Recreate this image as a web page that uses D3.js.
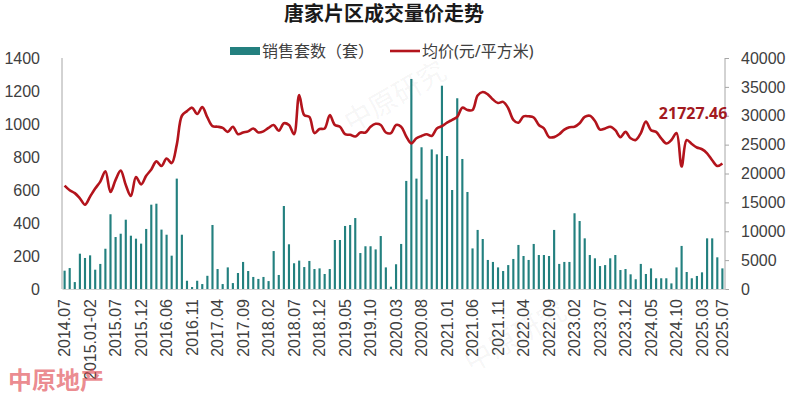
<!DOCTYPE html>
<html>
<head>
<meta charset="utf-8">
<script src="https://cdn.jsdelivr.net/npm/d3@7"></script>
<style>
  body { margin: 0; background: #fff; }
  svg { display: block; font-family: "Noto Sans", "Noto Sans CJK SC", sans-serif; }
</style>
</head>
<body>
<div id="chart"></div>
<script>
// monthly categories (Jan/Feb merged in some years)
const categories = [
  "2014.07","2014.08","2014.09","2014.10","2014.11-12",
  "2015.01-02","2015.03","2015.04","2015.05","2015.06","2015.07","2015.08","2015.09","2015.10","2015.11","2015.12",
  "2016.01-02","2016.03","2016.04","2016.05","2016.06","2016.07","2016.08","2016.09","2016.10","2016.11","2016.12",
  "2017.01","2017.02","2017.03","2017.04","2017.05","2017.06","2017.07","2017.08","2017.09","2017.10","2017.11","2017.12",
  "2018.01","2018.02","2018.03","2018.04","2018.05","2018.06","2018.07","2018.08","2018.09","2018.10","2018.11","2018.12",
  "2019.01","2019.02","2019.03","2019.04","2019.05","2019.06","2019.07","2019.08","2019.09","2019.10","2019.11","2019.12",
  "2020.01","2020.02","2020.03","2020.04","2020.05","2020.06","2020.07","2020.08","2020.09","2020.10","2020.11","2020.12",
  "2021.01","2021.02","2021.03","2021.04","2021.05","2021.06","2021.07","2021.08","2021.09","2021.10","2021.11","2021.12",
  "2022.01","2022.02","2022.03","2022.04","2022.05","2022.06","2022.07","2022.08","2022.09","2022.10","2022.11","2022.12",
  "2023.01","2023.02","2023.03","2023.04","2023.05","2023.06","2023.07","2023.08","2023.09","2023.10","2023.11","2023.12",
  "2024.01","2024.02","2024.03","2024.04","2024.05","2024.06","2024.07","2024.08","2024.09","2024.10","2024.11","2024.12",
  "2025.01","2025.02","2025.03","2025.04","2025.05","2025.06","2025.07"
];

// 销售套数 (套)
const units = [
  111,127,42,214,188,204,117,152,244,453,315,335,420,323,305,275,364,511,517,360,329,202,669,329,50,12,50,
  30,80,388,121,30,131,36,97,164,109,73,61,73,48,230,85,503,271,156,172,133,170,121,125,91,121,297,297,382,388,430,218,259,259,240,321,131,
  14,150,273,655,1273,669,859,543,846,816,1232,806,600,1156,788,588,246,358,303,176,164,131,109,145,182,267,200,176,273,206,206,200,358,152,164,164,459,412,307,206,
  186,139,145,186,206,115,121,89,59,152,91,125,65,65,65,34,131,261,103,65,79,101,307,307,192,125
];

// 均价 (元/平方米)
const prices = [
  17900,17100,16600,15700,14600,16000,17400,18600,20400,16800,18900,20500,18000,16100,19400,18100,19600,20700,22100,21300,22600,21800,
  25000,30000,30800,31400,30300,31500,29700,28200,28100,27900,27200,28100,26800,27100,27300,27800,27100,27300,27900,28400,27400,28700,28400,26800,
  33600,30100,29800,27000,27700,27800,30100,28400,28100,26800,26700,26400,27100,27100,28100,28600,28400,27100,
  27000,28400,28100,26400,25200,26100,26500,26800,26500,27800,28200,28800,29300,29800,31400,31000,31000,33500,34100,33700,
  32800,32200,32400,31300,29300,28800,29900,29900,29700,28400,27800,26300,26300,26800,27600,28000,28100,28700,29800,30000,
  29100,27600,27800,28100,27500,26300,27200,26100,25800,27000,29000,27500,27200,26100,25200,25800,27000,21200,25800,25100,
  24500,24200,23500,22300,21300,21727.46
];

const tickLabels = [
  "2014.07","2015.01-02","2015.07","2015.12","2016.06","2016.11","2017.04","2017.09","2018.02",
  "2018.07","2018.12","2019.05","2019.10","2020.03","2020.08","2021.01","2021.06","2021.11",
  "2022.04","2022.09","2023.02","2023.07","2023.12","2024.05","2024.10","2025.03","2025.07"
];
const leftTicks = [0,200,400,600,800,1000,1200,1400];
const rightTicks = [0,5000,10000,15000,20000,25000,30000,35000,40000];

const width = 796, height = 397;
const plot = {left: 62, right: 725, top: 58, bottom: 289};
const barColor = "#23807f", lineColor = "#b3141c";

const svg = d3.select("#chart").append("svg")
  .attr("width", width)
  .attr("height", height);

svg.append("rect").attr("width", width).attr("height", height).attr("fill", "#fff");

// faint watermarks
const marks = [[400, 105], [520, 345]];
svg.selectAll(".wm").data(marks).enter()
  .append("text")
  .attr("class", "wm")
  .attr("transform", d => "translate(" + d[0] + "," + d[1] + ") rotate(-30)")
  .attr("text-anchor", "middle")
  .attr("font-size", 28)
  .attr("fill", "#000")
  .attr("fill-opacity", 0.05)
  .text("中原研究");

const x = d3.scaleBand()
  .domain(categories)
  .range([plot.left, plot.right])
  .paddingInner(0.58)
  .paddingOuter(0.3);

const yL = d3.scaleLinear().domain([0, 1400]).range([plot.bottom, plot.top]);
const yR = d3.scaleLinear().domain([0, 40000]).range([plot.bottom, plot.top]);

// bars
svg.append("g").selectAll("rect")
  .data(units)
  .enter()
  .append("rect")
  .attr("x", (d, i) => x(categories[i]))
  .attr("width", x.bandwidth())
  .attr("y", d => yL(d))
  .attr("height", d => yL(0) - yL(d))
  .attr("fill", barColor);

// axes
const fmt = d3.format("d");
const leftAxis = svg.append("g")
  .attr("transform", "translate(" + plot.left + ",0)")
  .call(d3.axisLeft(yL).tickValues(leftTicks).tickFormat(fmt).tickSize(0).tickPadding(22));

const rightAxis = svg.append("g")
  .attr("transform", "translate(" + plot.right + ",0)")
  .call(d3.axisRight(yR).tickValues(rightTicks).tickFormat(fmt).tickSize(4).tickPadding(12));

const bottomAxis = svg.append("g")
  .attr("transform", "translate(0," + plot.bottom + ")")
  .call(d3.axisBottom(x).tickValues(tickLabels).tickSize(0).tickPadding(0));

[leftAxis, rightAxis, bottomAxis].forEach(a => {
  a.select(".domain").attr("stroke", "#a6a6a6");
  a.selectAll(".tick line").attr("stroke", "#a6a6a6");
  a.selectAll("text").attr("fill", "#404040").attr("font-size", 16);
});
leftAxis.select(".domain").attr("d", "M0," + plot.top + "V" + plot.bottom);
rightAxis.select(".domain").attr("d", "M0," + plot.top + "V" + plot.bottom);
bottomAxis.select(".domain").attr("stroke", "#d0d0d0");

bottomAxis.selectAll(".tick text")
  .attr("transform", "translate(0,10) rotate(-90)")
  .attr("text-anchor", "end")
  .attr("x", 0)
  .attr("y", 0)
  .attr("dy", "0.35em");

// price line
const line = d3.line()
  .x((d, i) => x(categories[i]) + x.bandwidth() / 2)
  .y(d => yR(d))
  .curve(d3.curveCatmullRom.alpha(0.5));

svg.append("path")
  .datum(prices)
  .attr("d", line)
  .attr("fill", "none")
  .attr("stroke", lineColor)
  .attr("stroke-width", 2.6)
  .attr("stroke-linejoin", "round");

// last value label
const last = prices.length - 1;
svg.append("text")
  .attr("x", x(categories[last]) + x.bandwidth() / 2 + 5)
  .attr("y", yR(prices[last]) - 45)
  .attr("text-anchor", "end")
  .attr("font-size", 16)
  .attr("font-weight", "bold")
  .attr("fill", "#a31a1f")
  .text(d3.format(".2f")(prices[last]));

// title
svg.append("text")
  .attr("x", 384)
  .attr("y", 21)
  .attr("text-anchor", "middle")
  .attr("font-size", 20)
  .attr("font-weight", "bold")
  .attr("fill", "#1a1a1a")
  .text("唐家片区成交量价走势");

// legend
const legend = svg.append("g").attr("transform", "translate(230,51)");
legend.append("rect").attr("x", 0).attr("y", -4).attr("width", 30).attr("height", 8).attr("fill", barColor);
legend.append("text").attr("x", 32).attr("y", 0).attr("dy", "0.35em")
  .attr("font-size", 16).attr("fill", "#404040").text("销售套数（套）");
legend.append("line").attr("x1", 160).attr("x2", 190).attr("y1", 0).attr("y2", 0)
  .attr("stroke", lineColor).attr("stroke-width", 2.6);
legend.append("text").attr("x", 192).attr("y", 0).attr("dy", "0.35em")
  .attr("font-size", 16).attr("fill", "#404040").text("均价(元/平方米)");

// logo
svg.append("text")
  .attr("x", 8)
  .attr("y", 389)
  .attr("font-size", 24)
  .attr("font-weight", "bold")
  .attr("fill", "#e0484f")
  .attr("fill-opacity", 0.65)
  .text("中原地产");
</script>
</body>
</html>
